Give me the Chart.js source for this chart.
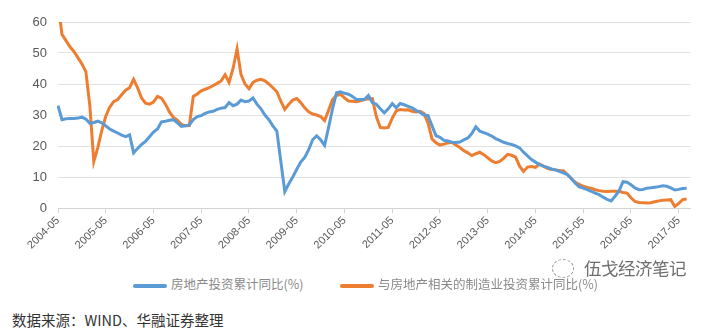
<!DOCTYPE html>
<html>
<head>
<meta charset="utf-8">
<script src="https://cdn.jsdelivr.net/npm/chart.js@4.4.1/dist/chart.umd.min.js"></script>
<style>
  html, body { margin: 0; padding: 0; background: #fff; }
  body { width: 701px; height: 334px; position: relative; overflow: hidden; font-family: "Noto Sans CJK SC", "Noto Sans", sans-serif; }
  #wrap { position: absolute; left: 0; top: 0; width: 701px; height: 260px; }
  .key { position: absolute; top: 274px; font-size: 12.5px; color: #8a8a8a; white-space: nowrap; }
  .key i { display: inline-block; width: 34px; height: 4px; vertical-align: middle; margin-right: 4px; border-radius: 2px; }
  #mark { position: absolute; left: 584px; top: 255px; font-size: 17.5px; color: #6e6e6e; letter-spacing: -0.5px; }
  #icon { position: absolute; left: 552px; top: 259px; width: 20px; height: 17px; border: 1px dashed #9a9a9a; border-radius: 50%; }
  #src { position: absolute; left: 12px; top: 309px; font-size: 14.5px; color: #333; }
</style>
</head>
<body>
<div id="wrap"><canvas id="lineChart"></canvas></div>
<div class="key" style="left:133px"><i style="background:#5b9bd5"></i>房地产投资累计同比(%)</div>
<div class="key" style="left:340px"><i style="background:#ed7d31"></i>与房地产相关的制造业投资累计同比(%)</div>
<div id="icon"></div>
<div id="mark">伍戈经济笔记</div>
<div id="src">数据来源：WIND、华融证券整理</div>
<script>
// monthly categories, 2004-05 .. 2017-08
var startYear = 2004, startMonth = 5, monthCount = 160;
var months = [];
for (var i = 0; i < monthCount; i++) {
  var t = startMonth - 1 + i;
  months.push((startYear + Math.floor(t / 12)) + '-' + String(t % 12 + 1).padStart(2, '0'));
}

// 房地产投资累计同比(%), one row per May..April
var realEstate = [
  33, 28.5, 28.8, 28.9, 28.9, 29.0, 29.3, 28.7, 27.3, 27.6, 28.0, 27.5,
  26.5, 25.5, 24.8, 24.2, 23.5, 23.0, 23.6, 17.8, 19.2, 20.5, 21.5, 23.0,
  24.5, 25.5, 27.8, 28.0, 28.3, 28.5, 27.5, 26.3, 26.5, 26.8, 28.5, 29.5,
  29.8, 30.5, 31.0, 31.2, 31.8, 32.2, 32.4, 34.0, 33.0, 33.5, 34.8, 34.3,
  34.5, 35.5, 33.5, 32.0, 30.0, 28.5, 26.5, 24.8, 15.0, 5.3, 7.8, 10.0,
  12.5, 14.8, 16.3, 18.8, 22.0, 23.3, 22.0, 20.2, 26.0, 32.0, 37.2, 37.5,
  37.0, 36.7, 36.0, 35.0, 35.0, 35.0, 36.3, 34.0, 33.5, 32.0, 30.7, 32.0,
  33.7, 32.3, 33.7, 33.3, 32.8, 32.3, 31.5, 30.8, 30.0, 29.8, 26.5, 23.3,
  22.8, 21.8, 21.6, 21.2, 21.1, 21.3, 22.0, 22.6, 24.0, 26.2, 24.8, 24.3,
  23.8, 23.2, 22.4, 21.8, 21.2, 20.8, 20.5, 20.0, 19.4, 18.0, 16.8, 15.6,
  14.8, 14.0, 13.5, 13.1, 12.6, 12.3, 11.8, 11.3, 10.8, 9.5, 8.0, 6.8,
  6.4, 5.9, 5.4, 4.8, 4.3, 3.5, 2.8, 2.3, 3.8, 5.5, 8.5, 8.3,
  7.5, 6.5, 5.9, 6.0, 6.4, 6.5, 6.7, 6.9, 7.2, 7.0, 6.5, 5.8,
  6.0, 6.3, 6.4, null
];

// 与房地产相关的制造业投资累计同比(%)
var relatedMfg = [
  66, 56, 54, 52, 50.5, 48.5, 46.5, 44, 33, 15.0, 19.5, 25,
  29.6, 32.5, 34.3, 35, 36.5, 38, 38.8, 41.5, 38.8, 35.5, 33.8, 33.5,
  34.2, 36, 35.4, 33.5, 31, 29.2, 28.3, 27, 26.5, 26.6, 36, 36.8,
  37.8, 38.3, 38.8, 39.5, 40.2, 41, 43, 40.5, 45, 51.3, 43, 40,
  38.5, 40.5, 41.2, 41.5, 41, 40, 38.8, 37.5, 34.5, 31.8, 33.5, 34.8,
  35.3, 34, 32.3, 31, 30.3, 30, 29.5, 28.2, 31.5, 35, 36.3, 36.7,
  35.5, 34.5, 34.4, 34.3, 34.6, 35, 35.2, 35.3, 29.5, 26, 25.8, 26,
  29, 31.3, 31.8, 31.6, 31.7, 31.2, 31, 31.2, 30.5, 27.4, 22.3, 21,
  20.3, 20.6, 21, 21.2, 20.3, 19.5, 18.5, 17.8, 16.9, 17.5, 18, 17.2,
  16.2, 15.2, 14.6, 15, 16, 17.3, 17, 16.4, 13.5, 11.8, 13.2, 13.4,
  13.1, 14.2, 13.5, 12.8, 12.4, 12.3, 12.1, 12, 10.8, 9.5, 8.3, 7.6,
  7, 6.6, 6.4, 5.9, 5.6, 5.4, 5.3, 5.4, 5.4, 5.4, 5, 4.8,
  3.3, 2.1, 1.8, 1.7, 1.6, 1.7, 2, 2.3, 2.5, 2.6, 2.7, 0.5,
  1.5, 2.7, 2.9, null
];

var isYearTick = function (idx) { return months[idx] && months[idx].slice(5) === '05'; };

var ctx = document.getElementById('lineChart').getContext('2d');
var myLineChart = new Chart(ctx, {
  type: 'line',
  data: {
    labels: months,
    datasets: [{
      label: '房地产投资累计同比(%)',
      data: realEstate,
      borderColor: '#5b9bd5',
      borderWidth: 3,
      pointRadius: 0,
      tension: 0
    }, {
      label: '与房地产相关的制造业投资累计同比(%)',
      data: relatedMfg,
      borderColor: '#ed7d31',
      borderWidth: 3,
      pointRadius: 0,
      tension: 0
    }]
  },
  options: {
    responsive: true,
    maintainAspectRatio: false,
    animation: false,
    layout: { padding: { top: 22, right: 4, left: 0, bottom: 0 } },
    plugins: { legend: { display: false }, tooltip: { enabled: false } },
    scales: {
      x: {
        afterFit: function (s) { s.height = 52; },
        grid: {
          drawOnChartArea: false,
          tickLength: 5,
          color: function (c) { return isYearTick(c.index) ? '#d4d4d4' : 'rgba(0,0,0,0)'; }
        },
        border: { color: '#d4d4d4', width: 1 },
        ticks: {
          autoSkip: false,
          minRotation: 45,
          maxRotation: 45,
          padding: 1,
          color: '#595959',
          font: { family: "'Liberation Sans', sans-serif", size: 11 },
          callback: function (v, idx) { return isYearTick(idx) ? months[idx] : ''; }
        }
      },
      y: {
        min: 0,
        max: 60,
        afterFit: function (s) { s.width = 58; },
        border: { display: false },
        grid: { color: '#e2e2e2', drawTicks: false },
        ticks: {
          stepSize: 10,
          padding: 11,
          color: '#595959',
          font: { family: "'Liberation Sans', sans-serif", size: 13 }
        }
      }
    }
  }
});
</script>
</body>
</html>
